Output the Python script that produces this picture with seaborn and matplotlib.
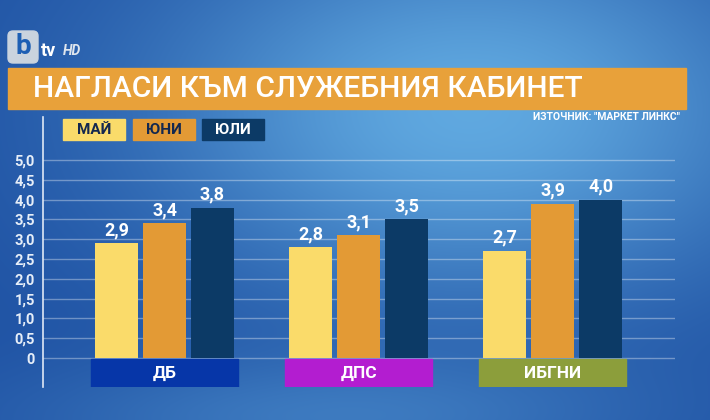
import numpy as np
import pandas as pd
import matplotlib
matplotlib.use("Agg")
import matplotlib.pyplot as plt
from matplotlib.patches import Rectangle, FancyBboxPatch
import seaborn as sns

# data
parties = ["ДБ", "ДПС", "ИБГНИ"]
months = ["МАЙ", "ЮНИ", "ЮЛИ"]
may = [2.9, 2.8, 2.7]
june = [3.4, 3.1, 3.9]
july = [3.8, 3.5, 4.0]
yticks = [0, 0.5, 1.0, 1.5, 2.0, 2.5, 3.0, 3.5, 4.0, 4.5, 5.0]

month_colors = ["#FADB6A", "#E39A35", "#0C3A66"]
month_text = ["#14284f", "#14284f", "white"]
party_colors = ["#0636A8", "#B31DD0", "#8C9E3B"]

df = pd.DataFrame({
    "party": parties * 3,
    "month": [m for m in months for _ in parties],
    "value": may + june + july,
})

sns.set_theme(style="white")
plt.rcParams["font.family"] = ["Roboto", "DejaVu Sans"]

fig = plt.figure(figsize=(7.1, 4.2), dpi=100)

# blue studio background
bg = fig.add_axes([0, 0, 1, 1], zorder=-10)
yy, xx = np.mgrid[0:420, 0:710]
spot = np.exp(-((xx - 470) / 320.0) ** 2 - ((yy - 110) / 190.0) ** 2)
bottom = np.exp(-((xx - 330) / 300.0) ** 2 - ((yy - 420) / 60.0) ** 2)
dark = np.array([0.12, 0.32, 0.64])
light = np.array([0.42, 0.72, 0.92])
mix = np.clip(0.85 * spot + 0.35 * bottom, 0, 1)[..., None]
img = dark * (1 - mix) + light * mix
bg.imshow(img, extent=[0, 710, 420, 0], aspect="auto")
bg.set_xlim(0, 710)
bg.set_ylim(420, 0)
bg.axis("off")

# title bar
bg.add_patch(Rectangle((8, 68), 678, 41, color="#E8A13A", zorder=2))
bg.text(33, 89, "НАГЛАСИ КЪМ СЛУЖЕБНИЯ КАБИНЕТ", color="white", fontsize=21.5,
        fontweight="medium", va="center", ha="left", zorder=3)

# logo
bg.add_patch(FancyBboxPatch((10, 33), 26, 28, boxstyle="round,pad=2,rounding_size=5",
                            color="#c9d3de", zorder=3))
bg.text(23, 47, "b", color="#1d5fb4", fontsize=20, fontweight="bold",
        ha="center", va="center", zorder=4)
bg.text(41, 51, "tv", color="white", fontsize=13, fontweight="bold",
        ha="left", va="center", zorder=4)
bg.text(63, 51, "HD", color="#dfe6ee", fontsize=10, fontweight="bold",
        fontstyle="italic", ha="left", va="center", zorder=4)

# legend boxes
leg_x = [63, 133, 202]
for lx, m, c, tc in zip(leg_x, months, month_colors, month_text):
    bg.add_patch(Rectangle((lx, 119), 62, 21, color=c, zorder=2))
    bg.text(lx + 31, 130, m, color=tc, fontsize=11, fontweight="bold",
            ha="center", va="center", zorder=3)

bg.text(680, 117, 'ИЗТОЧНИК: "МАРКЕТ ЛИНКС"', color="white", fontsize=7.5,
        fontweight="bold", ha="right", va="center")

# chart
ax = fig.add_axes([0.0606, 0.0786, 0.8901, 0.6424])
ax.patch.set_alpha(0)
sns.barplot(data=df, x="party", y="value", hue="month", order=parties,
            hue_order=months, palette=month_colors, width=0.74, gap=0.1,
            saturation=1, legend=False, ax=ax, zorder=3, linewidth=0,
            edgecolor="none")

for cont in ax.containers:
    ax.bar_label(cont, labels=[f"{v:.1f}".replace(".", ",") for v in cont.datavalues],
                 color="white", fontsize=13, fontweight="bold", padding=3)

ax.set_xlim(-0.626, 2.63)
ax.set_ylim(-0.73, 6.08)
ax.set_yticks(yticks)
ax.set_yticklabels([f"{v:.1f}".replace(".", ",") if v else "0" for v in yticks],
                   color="#e6eef8", fontsize=10.5, fontweight="bold")
ax.tick_params(axis="y", length=0, pad=6)
ax.set_xticks([])
ax.set_xlabel("")
ax.set_ylabel("")
ax.yaxis.grid(True, color="white", alpha=0.35, lw=1, zorder=0)
for s in ["top", "right", "bottom"]:
    ax.spines[s].set_visible(False)
ax.spines["left"].set_color("#dfe8f5")
ax.spines["left"].set_linewidth(1.2)

# party label boxes
for i, (p, c) in enumerate(zip(parties, party_colors)):
    ax.add_patch(Rectangle((i - 0.38, -0.73), 0.76, 0.70, color=c, zorder=4))
    ax.text(i, -0.38, p, color="white", fontsize=12.5, fontweight="bold",
            ha="center", va="center", zorder=5)

fig.savefig("out.png", dpi=100)
